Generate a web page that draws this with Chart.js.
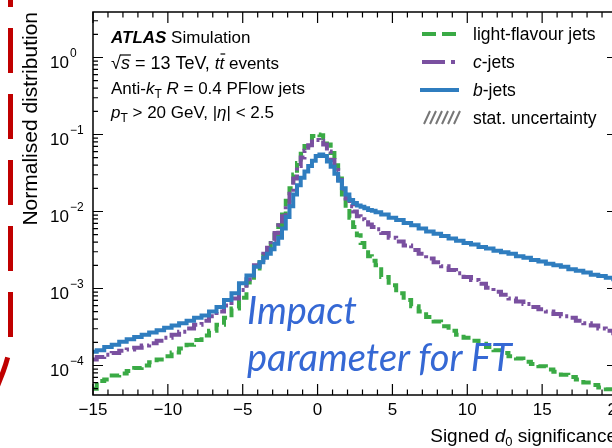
<!DOCTYPE html>
<html>
<head>
<meta charset="utf-8">
<script src="https://cdn.jsdelivr.net/npm/chart.js@4.4.1/dist/chart.umd.min.js"></script>
<style>
  html, body { margin: 0; padding: 0; width: 612px; height: 448px; overflow: hidden; background: #fff; }
  #wrap { position: relative; width: 612px; height: 448px; overflow: hidden; }
  #c { position: absolute; left: 0; top: 0; width: 640px; height: 448px; }
  #deco { position: absolute; left: 0; top: 0; }
  #note {
    position: absolute; left: 247px; top: 286px;
    font-family: Lato, "Open Sans", sans-serif; font-style: italic; font-size: 38px;
    line-height: 47px; color: #3568d4; white-space: nowrap;
  }
</style>
</head>
<body>
<div id="wrap">
  <canvas id="c" width="640" height="448"></canvas>
  <svg id="deco" width="40" height="448">
    <path d="M10.5,-38 L10.5,338 Q10.5,352 3,372 L-8,400" fill="none" stroke="#c00000" stroke-width="5" stroke-dasharray="45 21"/>
  </svg>
  <div id="note">Impact<br>parameter for FT</div>
</div>
<script>
// ---- data (signed d0 significance, normalised distribution) ----
const binCentres = [-15,-14.5,-14,-13.5,-13,-12.5,-12,-11.5,-11,-10.5,-10,-9.5,-9,-8.5,-8,-7.5,-7,-6.5,-6,-5.5,-5,-4.5,
  -4,-3.75,-3.5,-3.25,-3,-2.75,-2.5,-2.25,-2,-1.75,-1.5,-1.25,-1,-0.75,-0.5,-0.25,0,0.25,0.5,0.75,1,1.25,1.5,1.75,2,2.25,2.5,2.75,3,3.25,3.5,3.75,4,
  4.5,5,5.5,6,6.5,7,7.5,8,8.5,9,9.5,10,10.5,11,11.5,12,12.5,13,13.5,14,14.5,15,15.5,16,16.5,17,17.5,18,18.5,19,19.5,20];

const lightJets = [5.0e-5,6.3e-5,6.6e-5,7.4e-5,7.9e-5,8.5e-5,9.3e-5,1.00e-4,1.10e-4,1.20e-4,
  1.32e-4,1.48e-4,1.66e-4,1.86e-4,2.14e-4,2.45e-4,2.82e-4,3.39e-4,4.17e-4,5.50e-4,7.59e-4,1.20e-3,
  1.82e-3,2.19e-3,2.69e-3,3.24e-3,3.89e-3,5.01e-3,6.61e-3,9.12e-3,1.38e-2,2.00e-2,3.02e-2,4.27e-2,5.62e-2,7.08e-2,8.32e-2,9.55e-2,
  1.00e-1,9.77e-2,8.91e-2,7.41e-2,5.75e-2,3.98e-2,2.69e-2,1.51e-2,1.10e-2,8.32e-3,6.31e-3,4.90e-3,3.89e-3,3.16e-3,2.63e-3,2.29e-3,2.00e-3,
  1.41e-3,1.10e-3,8.71e-4,7.08e-4,5.89e-4,5.01e-4,4.27e-4,3.72e-4,3.24e-4,2.82e-4,2.51e-4,
  2.29e-4,2.09e-4,1.91e-4,1.74e-4,1.58e-4,1.45e-4,1.32e-4,1.23e-4,1.12e-4,1.05e-4,
  9.8e-5,8.9e-5,8.3e-5,7.6e-5,7.1e-5,6.6e-5,6.0e-5,5.6e-5,5.2e-5,4.9e-5,4.6e-5];

const cJets = [1.20e-4,1.29e-4,1.38e-4,1.45e-4,1.55e-4,1.62e-4,1.70e-4,1.82e-4,1.95e-4,2.09e-4,
  2.29e-4,2.51e-4,2.75e-4,3.02e-4,3.39e-4,3.80e-4,4.37e-4,5.01e-4,6.03e-4,7.41e-4,9.55e-4,1.32e-3,
  2.00e-3,2.34e-3,2.82e-3,3.39e-3,4.17e-3,5.25e-3,6.61e-3,8.71e-3,1.26e-2,1.70e-2,2.69e-2,3.89e-2,5.01e-2,6.17e-2,7.24e-2,8.13e-2,
  8.51e-2,8.32e-2,7.41e-2,6.03e-2,4.68e-2,3.47e-2,2.57e-2,1.95e-2,1.48e-2,1.17e-2,1.00e-2,8.71e-3,7.94e-3,7.24e-3,6.76e-3,6.31e-3,5.89e-3,
  5.25e-3,4.57e-3,4.07e-3,3.63e-3,3.16e-3,2.82e-3,2.45e-3,2.19e-3,1.95e-3,1.74e-3,1.58e-3,
  1.41e-3,1.29e-3,1.15e-3,1.02e-3,9.1e-4,8.3e-4,7.4e-4,6.8e-4,6.3e-4,5.75e-4,
  5.37e-4,5.01e-4,4.68e-4,4.37e-4,4.17e-4,3.80e-4,3.55e-4,3.31e-4,3.02e-4,2.82e-4,2.63e-4];

const bJets = [1.51e-4,1.58e-4,1.74e-4,1.86e-4,2.04e-4,2.19e-4,2.34e-4,2.51e-4,2.69e-4,2.88e-4,
  3.09e-4,3.31e-4,3.55e-4,3.80e-4,4.17e-4,4.47e-4,5.01e-4,5.75e-4,7.08e-4,8.71e-4,1.17e-3,1.48e-3,
  1.91e-3,2.19e-3,2.51e-3,2.82e-3,3.24e-3,3.80e-3,4.57e-3,6.03e-3,8.51e-3,1.17e-2,1.66e-2,2.19e-2,2.75e-2,3.31e-2,3.89e-2,4.57e-2,
  5.25e-2,5.50e-2,5.25e-2,4.47e-2,3.80e-2,3.09e-2,2.51e-2,2.00e-2,1.66e-2,1.41e-2,1.29e-2,1.20e-2,1.15e-2,1.10e-2,1.05e-2,1.02e-2,9.77e-3,
  9.12e-3,8.32e-3,7.76e-3,7.08e-3,6.61e-3,6.03e-3,5.50e-3,5.13e-3,4.79e-3,4.47e-3,4.17e-3,
  3.89e-3,3.72e-3,3.47e-3,3.31e-3,3.09e-3,2.95e-3,2.82e-3,2.63e-3,2.51e-3,2.34e-3,
  2.24e-3,2.09e-3,2.00e-3,1.91e-3,1.78e-3,1.70e-3,1.62e-3,1.51e-3,1.45e-3,1.38e-3,1.32e-3];

const xMajorTicks = [-15, -10, -5, 0, 5, 10, 15, 20];
const yDecadeExponents = [0, -1, -2, -3, -4];
const seriesLabels = ['light-flavour jets', 'c-jets', 'b-jets'];
const xRange = [-15, 20];
const yRange = [4.14e-5, 3.9];

// ---- chart ----
const FONT = '"Liberation Sans", Arial, Helvetica, sans-serif';
const toPoints = arr => binCentres.map((x, i) => ({ x: x, y: arr[i] }));

function richText(ctx, x, y, parts) {
  let cx = x;
  for (const p of parts) {
    ctx.font = p.font;
    ctx.fillText(p.t, cx, y + (p.dy || 0));
    const w = ctx.measureText(p.t).width;
    if (p.bar) {
      ctx.save(); ctx.lineWidth = 1.2; ctx.beginPath();
      ctx.moveTo(cx + p.bar[0], y + p.bar[1]); ctx.lineTo(cx + w + p.bar[2], y + p.bar[1]);
      ctx.stroke(); ctx.restore();
    }
    cx += w;
  }
  return cx;
}

const atlasPlugin = {
  id: 'atlasDecor',
  afterDatasetsDraw(chart) {
    const { ctx, chartArea: a, scales } = chart;
    const xs = scales.x, ys = scales.y;
    ctx.save();
    // frame
    ctx.strokeStyle = '#000';
    ctx.lineWidth = 1.5;
    ctx.strokeRect(a.left, a.top, a.right - a.left, a.bottom - a.top);
    // inward ticks
    ctx.lineWidth = 1.2;
    ctx.beginPath();
    for (let v = xRange[0]; v <= xRange[1]; v++) {
      const px = xs.getPixelForValue(v);
      const len = xMajorTicks.includes(v) ? 11 : 5.5;
      ctx.moveTo(px, a.bottom); ctx.lineTo(px, a.bottom - len);
      ctx.moveTo(px, a.top); ctx.lineTo(px, a.top + len);
    }
    for (let e = -5; e <= 0; e++) {
      for (let m = 1; m <= 9; m++) {
        const v = m * Math.pow(10, e);
        if (v < yRange[0] || v > yRange[1]) continue;
        const py = ys.getPixelForValue(v);
        const len = m === 1 ? 10 : 5;
        ctx.moveTo(a.left, py); ctx.lineTo(a.left + len, py);
        ctx.moveTo(a.right, py); ctx.lineTo(a.right - len, py);
      }
    }
    ctx.stroke();

    ctx.fillStyle = '#000';
    // x tick labels
    ctx.font = '17px ' + FONT;
    ctx.textAlign = 'center';
    ctx.textBaseline = 'alphabetic';
    for (const v of xMajorTicks) {
      const px = xs.getPixelForValue(v);
      const s = v < 0 ? '\u2212' + Math.abs(v) : String(v);
      ctx.fillText(s, px, 415);
    }
    // y tick labels 10^n
    ctx.textAlign = 'left';
    for (const e of yDecadeExponents) {
      const py = ys.getPixelForValue(Math.pow(10, e));
      ctx.font = '17px ' + FONT;
      ctx.fillText('10', 50, py + 10);
      const w = ctx.measureText('10').width;
      ctx.font = '12px ' + FONT;
      ctx.fillText(e === 0 ? '0' : '\u2212' + Math.abs(e), 50 + w + 1, py - 1);
    }
    // axis titles
    const tf = '19px ' + FONT;
    ctx.font = tf;
    const sigW = ctx.measureText(' significance').width;
    const sW = ctx.measureText('Signed ').width;
    ctx.font = '13px ' + FONT;
    const subW = ctx.measureText('0').width;
    ctx.font = 'italic ' + tf;
    const dW = ctx.measureText('d').width;
    ctx.textAlign = 'left';
    richText(ctx, a.right - sigW - subW - dW - sW, 442, [
      { t: 'Signed ', font: tf },
      { t: 'd', font: 'italic ' + tf },
      { t: '0', font: '13px ' + FONT, dy: 4 },
      { t: ' significance', font: tf }
    ]);
    ctx.save();
    ctx.translate(37, a.top);
    ctx.rotate(-Math.PI / 2);
    ctx.textAlign = 'right';
    ctx.font = '21px ' + FONT;
    ctx.fillText('Normalised distribution', 0, 0);
    ctx.restore();

    // ATLAS label block
    ctx.textAlign = 'left';
    const f = '17px ' + FONT, fi = 'italic 17px ' + FONT, fs = '12px ' + FONT;
    richText(ctx, 111, 43, [
      { t: 'ATLAS', font: 'italic bold 17px ' + FONT },
      { t: ' Simulation', font: f }
    ]);
    richText(ctx, 111, 69, [
      { t: '\u221A', font: '18px ' + FONT },
      { t: 's', font: 'italic 18px ' + FONT, bar: [-1, -14, 1] },
      { t: ' = 13 TeV, ', font: '18px ' + FONT },
      { t: 't', font: fi },
      { t: 't', font: fi, bar: [1, -15, 1] },
      { t: ' events', font: f }
    ]);
    richText(ctx, 111, 94, [
      { t: 'Anti-', font: f },
      { t: 'k', font: fi },
      { t: 'T', font: fs, dy: 4 },
      { t: ' ', font: f },
      { t: 'R', font: fi },
      { t: ' = 0.4 PFlow jets', font: f }
    ]);
    richText(ctx, 111, 118, [
      { t: 'p', font: fi },
      { t: 'T', font: fs, dy: 4 },
      { t: ' > 20 GeV, |', font: f },
      { t: '\u03B7', font: fi },
      { t: '| < 2.5', font: f }
    ]);

    // legend
    const lf = '17.5px ' + FONT, lfi = 'italic 17.5px ' + FONT;
    const ds = chart.data.datasets;
    const rowY = [34, 62, 90, 118];
    const lx0 = 422, lx1 = 456, tx = 473;
    ctx.lineWidth = 4;
    ctx.strokeStyle = ds[0].borderColor;
    ctx.beginPath();
    ctx.moveTo(lx0, rowY[0]); ctx.lineTo(lx0 + 14, rowY[0]);
    ctx.moveTo(lx0 + 20, rowY[0]); ctx.lineTo(lx1, rowY[0]);
    ctx.stroke();
    ctx.strokeStyle = ds[1].borderColor;
    ctx.beginPath();
    ctx.moveTo(lx0, rowY[1]); ctx.lineTo(lx0 + 23, rowY[1]);
    ctx.moveTo(lx0 + 29, rowY[1]); ctx.lineTo(lx0 + 33, rowY[1]);
    ctx.stroke();
    ctx.strokeStyle = ds[2].borderColor;
    ctx.beginPath();
    ctx.moveTo(lx0 - 2, rowY[2]); ctx.lineTo(lx1 + 3, rowY[2]);
    ctx.stroke();
    ctx.strokeStyle = '#777';
    ctx.lineWidth = 2;
    ctx.beginPath();
    for (let i = 0; i < 6; i++) {
      const bx = lx0 + 2 + i * 6;
      ctx.moveTo(bx, rowY[3] + 6); ctx.lineTo(bx + 6, rowY[3] - 7);
    }
    ctx.stroke();
    ctx.fillStyle = '#000';
    ctx.textBaseline = 'middle';
    richText(ctx, tx, rowY[0] + 1, [{ t: ds[0].label, font: lf }]);
    richText(ctx, tx, rowY[1] + 1, [{ t: 'c', font: lfi }, { t: '-jets', font: lf }]);
    richText(ctx, tx, rowY[2] + 1, [{ t: 'b', font: lfi }, { t: '-jets', font: lf }]);
    richText(ctx, tx, rowY[3] + 1, [{ t: 'stat. uncertainty', font: lf }]);
    ctx.restore();
  }
};

new Chart(document.getElementById('c'), {
  type: 'line',
  data: {
    datasets: [
      { label: seriesLabels[0], data: toPoints(lightJets), borderColor: '#3aaa45', borderWidth: 4,
        borderDash: [10, 5], stepped: 'middle', pointRadius: 0, fill: false, order: 2 },
      { label: seriesLabels[1], data: toPoints(cJets), borderColor: '#7a50a0', borderWidth: 4,
        borderDash: [14, 4, 3, 4], stepped: 'middle', pointRadius: 0, fill: false, order: 1 },
      { label: seriesLabels[2], data: toPoints(bJets), borderColor: '#2f7dbf', borderWidth: 4,
        stepped: 'middle', pointRadius: 0, fill: false, order: 0 }
    ]
  },
  options: {
    responsive: false,
    animation: false,
    layout: { padding: { left: 0, top: 12, right: 23, bottom: 0 } },
    plugins: { legend: { display: false }, tooltip: { enabled: false } },
    scales: {
      x: {
        type: 'linear', min: xRange[0], max: xRange[1],
        ticks: { display: false }, grid: { display: false }, border: { display: false },
        afterFit: s => { s.height = 53; }
      },
      y: {
        type: 'logarithmic', min: yRange[0], max: yRange[1],
        ticks: { display: false }, grid: { display: false }, border: { display: false },
        afterFit: s => { s.width = 93; }
      }
    }
  },
  plugins: [atlasPlugin]
});
</script>
</body>
</html>
